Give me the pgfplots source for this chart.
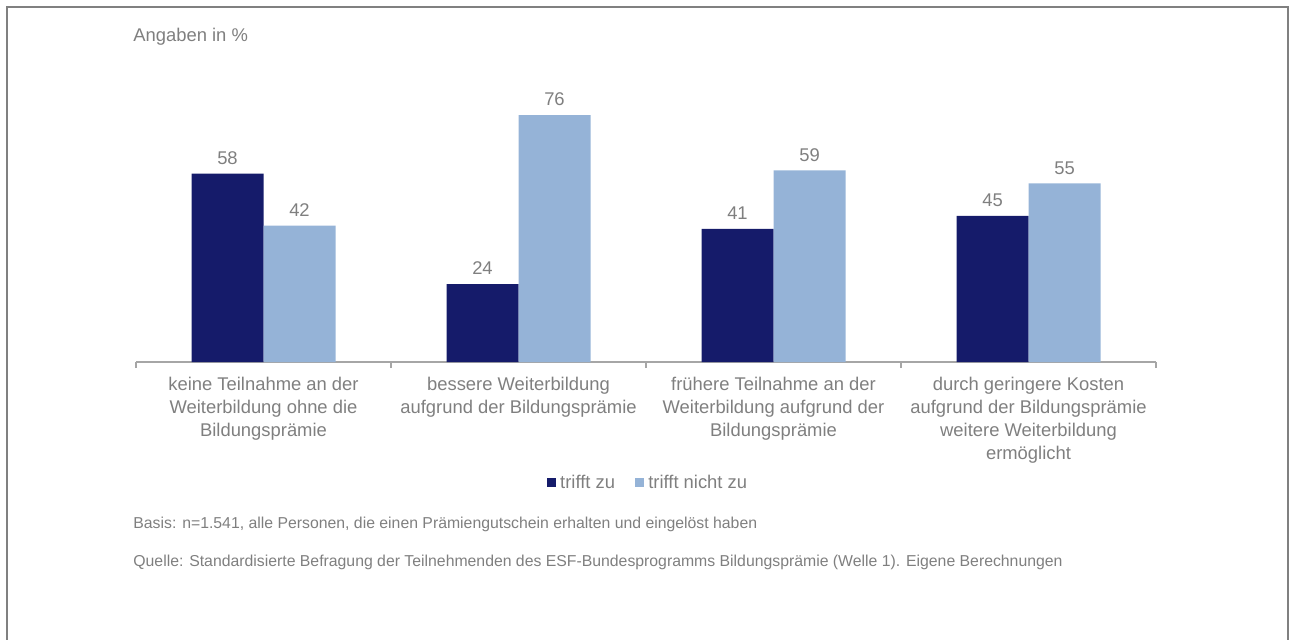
\documentclass[border=0pt]{standalone}
\usepackage{fontspec}
\setmainfont{Liberation Sans}
\usepackage{pgfplots}
\pgfplotsset{compat=1.18}
\definecolor{dark}{RGB}{21,27,106}
\definecolor{light}{RGB}{149,179,215}
\definecolor{txt}{RGB}{127,127,127}
\definecolor{axln}{RGB}{166,166,166}
\definecolor{frm}{RGB}{128,128,128}
\begin{document}
\begin{tikzpicture}
\useasboundingbox (0,0) rectangle (646pt,319.5pt);
\draw[frm, line width=1pt] (3.5pt,-1pt) -- (3.5pt,315.75pt) -- (644pt,315.75pt) -- (644pt,-1pt);
\begin{axis}[
  at={(68pt,138.5pt)}, anchor=south west,
  scale only axis, width=510pt, height=130pt,
  xmin=-0.5, xmax=3.5, ymin=0, ymax=80,
  axis x line*=bottom, hide y axis,
  /pgf/number format/assume math mode=true,
  x axis line style={axln, line width=0.75pt},
  xtick={0,1,2,3}, major tick length=0pt,
  xticklabels={{keine Teilnahme an der\\Weiterbildung ohne die\\Bildungsprämie},
               {bessere Weiterbildung\\aufgrund der Bildungsprämie},
               {frühere Teilnahme an der\\Weiterbildung aufgrund der\\Bildungsprämie},
               {durch geringere Kosten\\aufgrund der Bildungsprämie\\weitere Weiterbildung\\ermöglicht}},
  xticklabel style={align=center, font=\fontsize{9.2}{11.5}\selectfont, text=txt, anchor=north, yshift=-4pt},
  extra x ticks={-0.5,0.5,1.5,2.5,3.5}, extra x tick labels={},
  extra x tick style={tick align=outside, major tick length=3pt, tick style={axln, line width=0.75pt}},
  ybar=0pt, bar width=36pt,
  nodes near coords,
  nodes near coords style={font=\fontsize{9.2}{11}\selectfont, text=txt, yshift=1pt},
  legend columns=2,
  legend style={at={(0.503,-0.465)}, anchor=center, draw=none, fill=none,
     font=\fontsize{9.2}{11}\selectfont, text=txt,
     /tikz/every even column/.append style={column sep=8pt}},
  legend image code/.code={\fill[#1] (0pt,-2.3pt) rectangle (4.6pt,2.3pt);},
]
\addplot[fill=dark, draw=none] coordinates {(0,58) (1,24) (2,41) (3,45)};
\addplot[fill=light, draw=none] coordinates {(0,42) (1,76) (2,59) (3,55)};
\legend{trifft zu, trifft nicht zu}
\end{axis}
\node[anchor=base west, inner sep=0pt, text=txt, font=\fontsize{9.2}{11}\selectfont] at (66.5pt,298.5pt) {Angaben in \%};
\node[anchor=base west, inner sep=0pt, text=txt, font=\fontsize{7.9}{9}\selectfont] at (66.5pt,55.5pt) {Basis: n=1.541, alle Personen, die einen Prämiengutschein erhalten und eingelöst haben};
\node[anchor=base west, inner sep=0pt, text=txt, font=\fontsize{7.9}{9}\selectfont] at (66.5pt,36.5pt) {Quelle: Standardisierte Befragung der Teilnehmenden des ESF-Bundesprogramms Bildungsprämie (Welle 1). Eigene Berechnungen};
\end{tikzpicture}
\end{document}
